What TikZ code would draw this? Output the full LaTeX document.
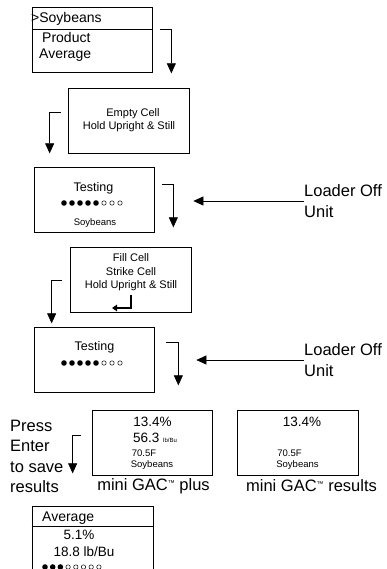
\documentclass[tikz,border=0pt]{standalone}
\usepackage{fontspec}
\setmainfont{Liberation Sans}
\usetikzlibrary{arrows.meta,calc}

\tikzset{
  screen/.style={draw, line width=0.7pt, minimum width=120pt, minimum height=65pt, inner sep=0pt},
  flow/.style={line width=0.6pt, -{Triangle[length=10pt,width=9pt]}},
  bigtxt/.style={font=\fontsize{16.5}{21}\selectfont, inner sep=0pt, align=left},
  menutxt/.style={font=\fontsize{14}{16}\selectfont, inner sep=0pt},
  msgtxt/.style={font=\fontsize{11}{13}\selectfont, inner sep=0pt},
  midtxt/.style={font=\fontsize{13.5}{15}\selectfont, inner sep=0pt},
  smalltxt/.style={font=\fontsize{9.5}{11}\selectfont, inner sep=0pt},
}
\newcommand{\tmark}{\raisebox{5pt}{\fontsize{7}{7}\selectfont ™}}

\begin{document}
\begin{tikzpicture}[x=1pt, y=-1pt]
\useasboundingbox (0,0) rectangle (387,569);

% screens
\node[screen] (menu) at (92,39.5) {};
\node[screen, minimum width=121pt] (empty) at (128.5,120.5) {};
\node[screen] (test1) at (94,199.5) {};
\node[screen, minimum width=121pt] (fill) at (130.5,279.5) {};
\node[screen] (test2) at (94,359.5) {};
\node[screen] (plus) at (152,442.5) {};
\node[screen, minimum width=121pt] (res) at (297.5,442.5) {};
\node[screen, minimum width=121pt, minimum height=94pt] (avg) at (92.5,553) {};

% menu screen
\draw[line width=0.7pt] (menu.west |- 0,29) -- (menu.east |- 0,29);
\node[menutxt, anchor=west] (m1) at (31,19) {>Soybeans};
\node[menutxt, anchor=west] (m2) at (42,37) {Product};
\node[menutxt, anchor=west] (m3) at (39,55) {Average};

% empty cell
\node[msgtxt] (e1) at (133,114) {Empty Cell};
\node[msgtxt] (e2) at (129,127) {Hold Upright \& Still};

% testing 1
\node[font=\fontsize{12.5}{14}\selectfont, inner sep=0pt] (t1) at (93.5,188) {Testing};
\foreach \i in {0,...,4} \fill (64+8*\i,203) circle (2.8pt);
\foreach \i in {5,6,7} \draw[line width=0.5pt] (64+8*\i,203) circle (2.2pt);
\node[smalltxt] (t1s) at (95,223) {Soybeans};

% fill cell
\node[msgtxt] (f1) at (131,258) {Fill Cell};
\node[msgtxt] (f2) at (131,272) {Strike Cell};
\node[msgtxt] (f3) at (131,286) {Hold Upright \& Still};
\draw[line width=1.6pt, -{Triangle[length=5pt,width=6.5pt]}] (131,294.5) -- (131,308) -- (112,308);

% testing 2
\node[font=\fontsize{12.5}{14}\selectfont, inner sep=0pt] (t2) at (94.5,347) {Testing};
\foreach \i in {0,...,4} \fill (64+8*\i,363) circle (2.8pt);
\foreach \i in {5,6,7} \draw[line width=0.5pt] (64+8*\i,363) circle (2.2pt);

% results
\node[midtxt] (p1) at (152.5,422) {13.4\%};
\node[midtxt, anchor=west] (p2) at (133,438) {56.3 {\fontsize{6}{7}\selectfont lb/Bu}};
\node[smalltxt] (p3) at (144,453) {70.5F};
\node[smalltxt] (p4) at (152,465) {Soybeans};
\node[bigtxt] (plabel) at (153.5,486) {mini GAC\tmark{} plus};

\node[midtxt] (r1) at (302,422) {13.4\%};
\node[smalltxt] (r3) at (289.5,453) {70.5F};
\node[smalltxt] (r4) at (297.5,465) {Soybeans};
\node[bigtxt] (rlabel) at (311.5,486) {mini GAC\tmark{} results};

% average
\draw[line width=0.7pt] (avg.west |- 0,526) -- (avg.east |- 0,526);
\node[menutxt, anchor=west] (a1) at (42,518) {Average};
\node[midtxt] (a2) at (79,535) {5.1\%};
\node[midtxt] (a3) at (84,552) {18.8 lb/Bu};
\foreach \i in {0,1,2} \fill (45+7.7*\i,567) circle (2.8pt);
\foreach \i in {3,...,7} \draw[line width=0.5pt] (45+7.7*\i,567) circle (2.2pt);

% side texts
\node[bigtxt, anchor=west] (lo1) at (304,201) {Loader Off\\Unit};
\node[bigtxt, anchor=west] (lo2) at (304,360) {Loader Off\\Unit};
\node[bigtxt, anchor=north west, font=\fontsize{16.5}{20.3}\selectfont] (press) at (10,420) {Press\\Enter\\to save\\results};

% arrows
\draw[flow] ([shift={(8,23)}]menu.north east) -| ([shift={(19,1)}]menu.south east);
\draw[flow] ([shift={(-7,-8.5)}]empty.west) -| ([shift={(-18,0)}]empty.south west);
\draw[flow] ([shift={(8,18)}]test1.north east) -| ([shift={(19,-5)}]test1.south east);
\draw[flow] ([shift={(-8,0.5)}]fill.west) -| ([shift={(-18,11)}]fill.south west);
\draw[flow] ([shift={(12,16)}]test2.north east) -| ([shift={(24,-7)}]test2.south east);
\draw[flow] ([shift={(-11,-7.5)}]plus.west) -| ([shift={(-19,-2)}]plus.south west);
\draw[flow] (lo1.west) -- ([xshift=39pt]test1.east |- lo1.west);
\draw[flow] (lo2.west) -- ([xshift=42pt]test2.east |- lo2.west);

\end{tikzpicture}
\end{document}
